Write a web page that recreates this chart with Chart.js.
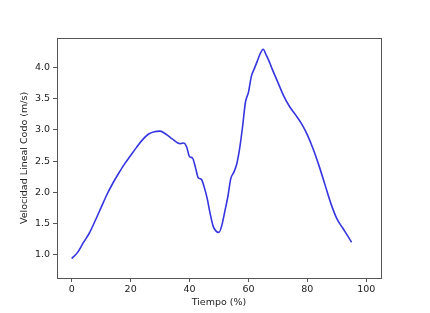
<!DOCTYPE html>
<html>
<head>
<meta charset="utf-8">
<script src="https://cdn.jsdelivr.net/npm/chart.js@4"></script>
<style>
  html, body { margin: 0; padding: 0; background: #ffffff; }
  #wrap { width: 430px; height: 313px; position: relative; }
</style>
</head>
<body>
<div id="wrap"><canvas id="chart"></canvas></div>
<script>
// Time (% of cycle) and elbow linear velocity (m/s)
const tiempo = [0, 2, 4, 6, 8, 10, 12, 14, 16, 18, 20, 22, 24, 26, 28, 30, 32, 34, 36, 37, 38, 39,
    40, 41, 42, 43, 44, 45, 46, 47, 48, 49, 50, 51, 52, 53, 54, 55, 56, 57, 58, 59, 60, 61, 62,
    63, 64, 65, 66, 67, 68, 70, 72, 74, 76, 78, 80, 82, 84, 86, 88, 90, 92, 94, 95];
const velocidad = [0.94, 1.04, 1.20, 1.35, 1.55, 1.76, 1.97, 2.15, 2.31, 2.46, 2.59, 2.72, 2.84,
    2.93, 2.97, 2.98, 2.93, 2.86, 2.79, 2.78, 2.79, 2.73, 2.57, 2.55, 2.40, 2.23, 2.21, 2.08,
    1.90, 1.66, 1.46, 1.38, 1.36, 1.48, 1.70, 1.93, 2.22, 2.32, 2.45, 2.70, 3.05, 3.45, 3.60,
    3.86, 3.98, 4.10, 4.22, 4.29, 4.20, 4.10, 3.98, 3.76, 3.54, 3.37, 3.24, 3.10, 2.92, 2.69,
    2.42, 2.12, 1.82, 1.58, 1.43, 1.28, 1.20];
const xTicks = [0, 20, 40, 60, 80, 100];
const yTicks = [1.0, 1.5, 2.0, 2.5, 3.0, 3.5, 4.0];

const TEXT = '#222222';
const SPINE = '#555555';
const FONT = { family: 'DejaVu Sans', size: 9.5 };

// Draws the top and right spines so the plot is boxed like matplotlib
const frameBox = {
    id: 'frameBox',
    afterDraw(chart) {
        const { ctx, chartArea: a } = chart;
        ctx.save();
        ctx.strokeStyle = SPINE;
        ctx.lineWidth = 1;
        ctx.strokeRect(a.left + 0.5, a.top + 0.5, a.right - a.left, a.bottom - a.top);
        ctx.restore();
    }
};

new Chart(document.getElementById('chart'), {
    type: 'line',
    data: {
        datasets: [{
            data: tiempo.map((t, i) => ({ x: t, y: velocidad[i] })),
            borderColor: '#3535e0',
            borderWidth: 1.6,
            pointRadius: 0,
            fill: false,
            cubicInterpolationMode: 'monotone'
        }]
    },
    options: {
        responsive: true,
        maintainAspectRatio: false,
        animation: false,
        devicePixelRatio: 1,
        layout: { padding: { top: 38, right: 49, bottom: 0, left: 0 } },
        plugins: {
            legend: { display: false },
            tooltip: { enabled: false }
        },
        scales: {
            x: {
                type: 'linear',
                min: -5,
                max: 105,
                afterBuildTicks: scale => { scale.ticks = xTicks.map(v => ({ value: v })); },
                afterFit: scale => { scale.height = 35; },
                grid: { display: true, drawOnChartArea: false, drawTicks: true, tickLength: 4, color: SPINE },
                border: { display: true, color: SPINE },
                ticks: { color: TEXT, font: FONT, padding: 2, maxRotation: 0, callback: v => String(v) },
                title: { display: true, text: 'Tiempo (%)', color: TEXT, font: FONT, padding: { top: 0, bottom: 5 } }
            },
            y: {
                type: 'linear',
                min: 0.63,
                max: 4.47,
                afterBuildTicks: scale => { scale.ticks = yTicks.map(v => ({ value: v })); },
                afterFit: scale => { scale.width = 57; },
                grid: { display: true, drawOnChartArea: false, drawTicks: true, tickLength: 4, color: SPINE },
                border: { display: true, color: SPINE },
                ticks: { color: TEXT, font: FONT, padding: 3, callback: v => v.toFixed(1) },
                title: { display: true, text: 'Velocidad Lineal Codo (m/s)', color: TEXT, font: FONT, padding: { top: 19, bottom: 0 } }
            }
        }
    },
    plugins: [frameBox]
});
</script>
</body>
</html>
